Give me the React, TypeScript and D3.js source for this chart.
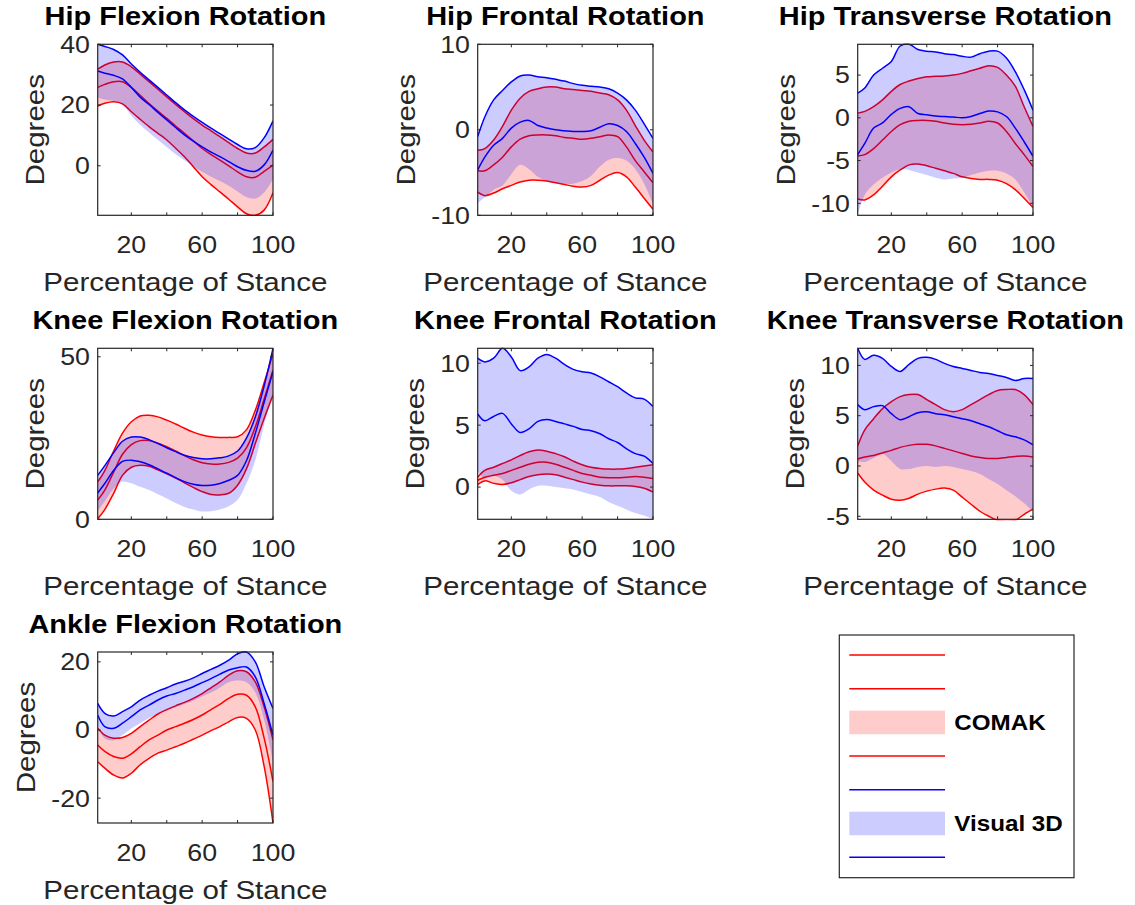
import React from 'react';
import * as d3 from 'd3';

// percentage of stance where values were read
const pct = [1, 5, 10, 15, 20, 25, 30, 35, 40, 45, 50, 55, 60, 65, 70, 75, 80, 85, 90, 95, 100];
const xTicks = [20, 40, 60, 80, 100];
const xTickLabels = [20, 60, 100];

// Hip flexion
const hipFlexLim = [-16.3, 40];
const hipFlexTicks = [0, 20, 40];
const hipFlexRedUpper = [31.8, 33.2, 34.2, 34.2, 32.6, 30.2, 27.7, 25.2, 22.7, 20.2, 17.8, 15.5, 13.4, 11.5, 9.6, 7.6, 5.7, 4.2, 4.2, 6.2, 8.7];
const hipFlexRedMean = [25.8, 26.8, 27.7, 27.7, 25.8, 23.2, 20.5, 18.0, 15.6, 13.1, 10.7, 8.2, 5.7, 3.7, 1.9, 0.0, -2.0, -3.6, -3.8, -1.8, 0.2];
const hipFlexRedLower = [19.7, 20.6, 21.1, 20.4, 17.8, 15.3, 12.9, 10.7, 8.5, 5.8, 3.0, -0.3, -3.6, -6.2, -8.6, -11.0, -13.5, -15.8, -16.3, -14.6, -8.9];
const hipFlexBlueUpper = [40.0, 39.3, 38.3, 36.5, 33.5, 30.8, 28.3, 25.8, 23.3, 20.8, 18.4, 16.3, 14.3, 12.4, 10.6, 8.8, 7.0, 5.6, 6.0, 9.2, 14.8];
const hipFlexBlueMean = [31.2, 30.5, 29.8, 28.6, 25.8, 22.6, 20.2, 17.6, 15.1, 12.6, 10.2, 8.1, 6.2, 4.5, 3.0, 1.4, -0.3, -1.5, -1.8, 0.3, 5.2];
const hipFlexBlueLower = [22.5, 21.8, 21.3, 20.2, 16.5, 13.5, 11.0, 8.6, 6.2, 3.8, 1.8, -0.2, -2.0, -3.6, -5.0, -6.6, -8.5, -10.3, -10.8, -8.8, -4.4];

// Hip frontal
const hipFrontLim = [-10, 10];
const hipFrontTicks = [-10, 0, 10];
const hipFrontRedUpper = [-2.4, -2.2, -1.2, 0.4, 2.3, 3.7, 4.5, 4.8, 5.0, 5.0, 4.8, 4.7, 4.6, 4.5, 4.3, 4.1, 3.5, 2.3, 0.5, -1.2, -2.6];
const hipFrontRedMean = [-4.8, -4.8, -4.1, -3.2, -2.0, -1.1, -0.7, -0.6, -0.6, -0.7, -0.9, -1.0, -1.1, -1.0, -0.8, -0.6, -0.8, -2.0, -3.6, -4.9, -6.2];
const hipFrontRedLower = [-7.3, -7.7, -7.4, -6.9, -6.5, -6.1, -5.9, -5.9, -6.0, -6.2, -6.4, -6.6, -6.7, -6.5, -5.9, -5.3, -5.0, -5.5, -6.7, -8.0, -9.3];
const hipFrontBlueUpper = [-0.8, 1.5, 3.5, 4.6, 5.6, 6.3, 6.4, 6.2, 6.1, 5.9, 5.7, 5.4, 5.2, 5.1, 5.0, 4.8, 4.3, 3.5, 2.3, 0.7, -1.0];
const hipFrontBlueMean = [-4.7, -3.2, -1.8, -1.0, 0.2, 0.9, 1.1, 0.5, 0.2, 0.0, -0.1, -0.2, -0.2, -0.1, 0.3, 0.7, 0.5, -0.2, -1.6, -3.2, -5.1];
const hipFrontBlueLower = [-8.6, -7.9, -7.0, -6.5, -5.2, -4.1, -4.6, -5.5, -6.0, -6.2, -6.3, -6.3, -6.0, -5.4, -4.3, -3.5, -3.3, -3.6, -4.6, -6.3, -8.7];

// Hip transverse
const hipTransLim = [-11.4, 8.6];
const hipTransTicks = [-10, -5, 0, 5];
const hipTransRedUpper = [0.55, 0.75, 1.3, 2.1, 3.1, 3.9, 4.3, 4.6, 4.8, 4.85, 4.9, 5.0, 5.2, 5.5, 5.8, 6.1, 5.9, 5.0, 3.7, 1.3, -1.0];
const hipTransRedMean = [-4.45, -4.3, -3.6, -2.6, -1.6, -0.8, -0.4, -0.3, -0.3, -0.4, -0.6, -0.75, -0.8, -0.75, -0.6, -0.4, -0.6, -1.6, -3.0, -4.3, -5.7];
const hipTransRedLower = [-9.5, -9.6, -9.0, -8.0, -6.9, -6.1, -5.5, -5.4, -5.6, -5.9, -6.2, -6.5, -6.9, -7.1, -7.2, -7.2, -7.3, -7.7, -8.4, -9.4, -10.5];
const hipTransBlueUpper = [2.9, 3.5, 5.0, 5.8, 6.6, 8.4, 8.6, 8.0, 7.8, 7.7, 7.5, 7.4, 7.2, 7.1, 7.5, 7.8, 7.8, 7.0, 5.4, 3.3, 0.9];
const hipTransBlueMean = [-4.3, -3.0, -1.2, -0.6, 0.4, 1.1, 1.3, 0.5, 0.35, 0.2, 0.15, 0.1, 0.0, 0.15, 0.5, 0.8, 0.7, 0.15, -1.2, -2.8, -4.5];
const hipTransBlueLower = [-11.4, -9.0, -7.8, -7.0, -6.4, -6.0, -6.1, -6.4, -6.7, -7.0, -7.2, -7.1, -7.0, -6.7, -6.4, -6.2, -6.2, -6.5, -7.2, -8.7, -10.4];

// Knee flexion
const kneeFlexLim = [0, 52.6];
const kneeFlexTicks = [0, 50];
const kneeFlexRedUpper = [11.5, 15.0, 21.0, 26.5, 30.0, 31.8, 32.0, 31.5, 30.5, 29.3, 28.0, 26.8, 25.9, 25.4, 25.2, 25.2, 25.4, 27.5, 33.5, 42.0, 51.0];
const kneeFlexRedMean = [5.9, 9.0, 14.5, 20.0, 23.0, 24.2, 24.2, 23.4, 22.3, 21.0, 19.6, 18.3, 17.4, 17.0, 17.0, 17.5, 18.8, 22.0, 28.4, 37.0, 45.9];
const kneeFlexRedLower = [0.2, 3.0, 8.0, 13.5, 16.0, 16.6, 16.3, 15.2, 14.0, 12.7, 11.2, 9.8, 8.5, 7.6, 7.5, 8.0, 10.5, 15.5, 23.3, 31.0, 38.2];
const kneeFlexBlueUpper = [13.5, 16.5, 20.5, 24.0, 25.3, 25.3, 24.5, 23.3, 22.0, 20.8, 19.7, 19.0, 18.6, 18.6, 18.9, 19.5, 21.0, 25.0, 31.5, 41.0, 52.6];
const kneeFlexBlueMean = [8.1, 11.0, 15.0, 17.8, 18.2, 17.7, 16.8, 15.5, 14.2, 12.8, 11.6, 10.8, 10.4, 10.5, 11.0, 12.0, 13.5, 18.0, 26.4, 36.0, 45.4];
const kneeFlexBlueLower = [2.7, 5.5, 9.5, 11.6, 11.1, 10.0, 9.0, 7.7, 6.4, 5.0, 3.8, 3.0, 2.4, 2.5, 3.0, 4.0, 6.0, 11.0, 18.2, 29.0, 38.2];

// Knee frontal
const kneeFrontLim = [-2.6, 11.2];
const kneeFrontTicks = [0, 5, 10];
const kneeFrontRedUpper = [0.8, 1.35, 1.6, 1.9, 2.2, 2.55, 2.85, 3.0, 2.9, 2.7, 2.45, 2.1, 1.8, 1.6, 1.5, 1.45, 1.45, 1.5, 1.6, 1.7, 1.8];
const kneeFrontRedMean = [0.55, 0.8, 0.95, 1.1, 1.35, 1.6, 1.85, 2.0, 2.0, 1.85, 1.6, 1.35, 1.1, 0.95, 0.8, 0.75, 0.75, 0.8, 0.85, 0.8, 0.7];
const kneeFrontRedLower = [0.2, 0.5, 0.3, 0.2, 0.35, 0.6, 0.85, 1.0, 1.05, 1.0, 0.8, 0.6, 0.4, 0.25, 0.15, 0.1, 0.1, 0.1, 0.05, -0.1, -0.4];
const kneeFrontBlueUpper = [10.4, 10.1, 10.4, 11.2, 10.5, 9.4, 9.7, 10.4, 10.7, 10.4, 9.9, 9.5, 9.3, 9.2, 8.9, 8.5, 8.1, 7.6, 7.2, 7.1, 6.5];
const kneeFrontBlueMean = [5.9, 5.35, 5.7, 5.95, 5.1, 4.4, 4.7, 5.3, 5.45, 5.3, 5.1, 4.9, 4.65, 4.55, 4.3, 3.9, 3.6, 3.1, 2.7, 2.5, 1.9];
const kneeFrontBlueLower = [1.3, 0.7, 0.9, 0.6, -0.3, -0.6, -0.2, 0.1, 0.1, 0.0, -0.1, -0.2, -0.4, -0.6, -0.8, -1.2, -1.5, -1.8, -2.1, -2.3, -2.6];

// Knee transverse
const kneeTransLim = [-5.3, 11.7];
const kneeTransTicks = [-5, 0, 5, 10];
const kneeTransRedUpper = [2.0, 3.6, 4.7, 5.7, 6.4, 6.9, 7.1, 7.1, 6.6, 6.1, 5.6, 5.4, 5.6, 6.1, 6.6, 7.1, 7.5, 7.6, 7.6, 7.1, 6.1];
const kneeTransRedMean = [0.7, 0.9, 1.05, 1.3, 1.55, 1.85, 2.05, 2.15, 2.15, 2.0, 1.75, 1.5, 1.25, 1.0, 0.85, 0.75, 0.75, 0.85, 0.95, 1.0, 0.9];
const kneeTransRedLower = [-0.7, -1.6, -2.4, -2.9, -3.3, -3.4, -3.2, -2.8, -2.5, -2.3, -2.2, -2.4, -3.1, -3.8, -4.5, -5.0, -5.4, -5.5, -5.4, -4.8, -4.3];
const kneeTransBlueUpper = [11.7, 10.6, 11.0, 10.7, 9.9, 9.4, 10.1, 10.7, 10.8, 10.6, 10.2, 9.9, 9.7, 9.5, 9.3, 9.2, 9.0, 8.8, 8.5, 8.7, 8.7];
const kneeTransBlueMean = [6.1, 5.6, 5.9, 6.0, 5.2, 4.6, 4.9, 5.3, 5.4, 5.2, 5.1, 4.9, 4.7, 4.5, 4.2, 3.9, 3.5, 3.1, 2.9, 2.6, 2.1];
const kneeTransBlueLower = [0.5, 0.4, 0.8, 1.2, 0.5, -0.3, -0.3, -0.1, 0.0, -0.1, 0.0, -0.1, -0.3, -0.5, -0.8, -1.3, -1.8, -2.4, -3.0, -3.7, -4.5];

// Ankle flexion
const ankleFlexLim = [-27.3, 22.9];
const ankleFlexTicks = [-20, 0, 20];
const ankleFlexRedUpper = [0.5, -1.5, -2.4, -2.2, -1.0, 1.0, 2.9, 4.7, 6.0, 7.1, 8.1, 9.3, 10.7, 12.4, 14.1, 16.1, 17.4, 17.1, 14.1, 6.8, -2.9];
const ankleFlexRedMean = [-4.4, -6.3, -7.8, -8.3, -7.0, -4.9, -2.9, -1.5, 0.0, 1.0, 2.0, 3.1, 4.4, 6.0, 7.5, 9.3, 10.5, 10.2, 6.8, -2.4, -15.1];
const ankleFlexRedLower = [-9.3, -11.2, -13.2, -14.1, -12.7, -10.2, -8.3, -6.8, -5.9, -4.9, -3.9, -2.7, -1.5, -0.2, 1.0, 2.4, 3.7, 3.4, 0.0, -10.7, -27.3];
const ankleFlexBlueUpper = [7.8, 4.9, 4.1, 5.4, 6.8, 8.8, 10.2, 11.4, 12.4, 13.5, 14.3, 15.3, 16.6, 17.8, 19.0, 20.5, 22.4, 22.9, 20.0, 12.7, 6.3];
const ankleFlexBlueMean = [4.4, 1.0, 0.5, 2.0, 3.9, 5.9, 7.3, 8.8, 10.0, 10.7, 11.7, 12.7, 13.9, 15.1, 16.4, 17.6, 18.3, 18.5, 15.6, 7.8, -1.5];
const ankleFlexBlueLower = [1.0, -2.5, -3.0, -1.5, 0.5, 2.0, 3.5, 4.8, 5.8, 6.7, 7.6, 8.6, 9.8, 11.0, 12.4, 14.0, 14.5, 14.0, 11.0, 3.0, -9.5];

const legendEntries = [
  { kind: 'line', series: 'red', label: '' },
  { kind: 'line', series: 'red', label: '' },
  { kind: 'patch', series: 'red', label: 'COMAK' },
  { kind: 'line', series: 'red', label: '' },
  { kind: 'line', series: 'blue', label: '' },
  { kind: 'patch', series: 'blue', label: 'Visual 3D' },
  { kind: 'line', series: 'blue', label: '' },
];

const panels = [
  { title: 'Hip Flexion Rotation', lim: hipFlexLim, ticks: hipFlexTicks,
    red: [hipFlexRedUpper, hipFlexRedMean, hipFlexRedLower], blue: [hipFlexBlueUpper, hipFlexBlueMean, hipFlexBlueLower] },
  { title: 'Hip Frontal Rotation', lim: hipFrontLim, ticks: hipFrontTicks,
    red: [hipFrontRedUpper, hipFrontRedMean, hipFrontRedLower], blue: [hipFrontBlueUpper, hipFrontBlueMean, hipFrontBlueLower] },
  { title: 'Hip Transverse Rotation', lim: hipTransLim, ticks: hipTransTicks,
    red: [hipTransRedUpper, hipTransRedMean, hipTransRedLower], blue: [hipTransBlueUpper, hipTransBlueMean, hipTransBlueLower] },
  { title: 'Knee Flexion Rotation', lim: kneeFlexLim, ticks: kneeFlexTicks,
    red: [kneeFlexRedUpper, kneeFlexRedMean, kneeFlexRedLower], blue: [kneeFlexBlueUpper, kneeFlexBlueMean, kneeFlexBlueLower] },
  { title: 'Knee Frontal Rotation', lim: kneeFrontLim, ticks: kneeFrontTicks,
    red: [kneeFrontRedUpper, kneeFrontRedMean, kneeFrontRedLower], blue: [kneeFrontBlueUpper, kneeFrontBlueMean, kneeFrontBlueLower] },
  { title: 'Knee Transverse Rotation', lim: kneeTransLim, ticks: kneeTransTicks,
    red: [kneeTransRedUpper, kneeTransRedMean, kneeTransRedLower], blue: [kneeTransBlueUpper, kneeTransBlueMean, kneeTransBlueLower] },
  { title: 'Ankle Flexion Rotation', lim: ankleFlexLim, ticks: ankleFlexTicks,
    red: [ankleFlexRedUpper, ankleFlexRedMean, ankleFlexRedLower], blue: [ankleFlexBlueUpper, ankleFlexBlueMean, ankleFlexBlueLower] },
];

const W = 1135;
const H = 905;
const colLeft = [97.7, 477.7, 857.7];
const rowTop = [44.3, 348.3, 652];
const boxW = 175.3;
const boxH = 171;
const FONT = '"Liberation Sans", Arial, Helvetica, sans-serif';
const SX = 1.115; // text in the figure is a bit wider than Arial
const AX = '#262626';
const RED = '#ff0000';
const BLUE = '#0000ff';
const TICK_FS = 24;
const LABEL_FS = 26.5;

// rough width of a tick label, to place the y label like MATLAB does
const labelWidth = (s: string, fs: number) =>
  s.split('').reduce((w, c) => w + (c === '-' ? 0.333 : 0.556), 0) * fs * SX;

const curve = d3.curveCatmullRom.alpha(0.5);

function Panel({ p, idx }: { p: any; idx: number }) {
  const left = colLeft[idx % 3];
  const top = rowTop[Math.floor(idx / 3)];
  const x = d3.scaleLinear().domain([1, 100]).range([left, left + boxW]);
  const y = d3.scaleLinear().domain(p.lim).range([top + boxH, top]);

  const line = d3.line<number>().x((_, i) => x(pct[i])).y((v) => y(v)).curve(curve);
  const band = (hi: number[], lo: number[]) =>
    d3.area<number>().x((i) => x(pct[i])).y0((i) => y(lo[i])).y1((i) => y(hi[i])).curve(curve)(pct.map((_, i) => i));

  const clipId = `clip-${idx}`;
  const tl = 3;
  const maxW = d3.max(p.ticks.map((t: number) => labelWidth(String(t), TICK_FS))) as number;
  const yLabelX = left - 7.7 - maxW - 16;
  const cy = top + boxH / 2;
  const cx = left + boxW / 2;

  return (
    <g>
      <defs>
        <clipPath id={clipId}>
          <rect x={left} y={top - 1} width={boxW} height={boxH + 2} />
        </clipPath>
      </defs>
      <g clipPath={`url(#${clipId})`}>
        <path d={band(p.red[0], p.red[2]) || ''} fill={RED} fillOpacity={0.2} />
        {p.red.map((s: number[], k: number) => (
          <path key={'r' + k} d={line(s) || ''} fill="none" stroke={RED} strokeWidth={1.5} />
        ))}
        <path d={band(p.blue[0], p.blue[2]) || ''} fill={BLUE} fillOpacity={0.2} />
        {[p.blue[0], p.blue[1]].map((s: number[], k: number) => (
          <path key={'b' + k} d={line(s) || ''} fill="none" stroke={BLUE} strokeWidth={1.5} />
        ))}
      </g>
      <rect x={left} y={top} width={boxW} height={boxH} fill="none" stroke={AX} strokeWidth={1.2} />
      {xTicks.map((t) => (
        <g key={'xt' + t} stroke={AX} strokeWidth={1}>
          <line x1={x(t)} x2={x(t)} y1={top + boxH} y2={top + boxH - tl} />
          <line x1={x(t)} x2={x(t)} y1={top} y2={top + tl} />
        </g>
      ))}
      {p.ticks.map((t: number) => (
        <g key={'yt' + t} stroke={AX} strokeWidth={1}>
          <line x1={left} x2={left + tl} y1={y(t)} y2={y(t)} />
          <line x1={left + boxW} x2={left + boxW - tl} y1={y(t)} y2={y(t)} />
        </g>
      ))}
      {xTickLabels.map((t) => (
        <text key={'xl' + t} transform={`translate(${x(t)},${top + boxH + 38}) scale(${SX},1)`}
          textAnchor="middle" fontSize={TICK_FS} fill={AX}>{t}</text>
      ))}
      {p.ticks.map((t: number) => (
        <text key={'yl' + t} transform={`translate(${left - 7.7},${y(t)}) scale(${SX},1)`}
          textAnchor="end" dy="0.35em" fontSize={TICK_FS} fill={AX}>{t}</text>
      ))}
      <text transform={`translate(${cx},${top + boxH + 75.7}) scale(${SX},1)`} textAnchor="middle"
        fontSize={LABEL_FS} fill={AX}>Percentage of Stance</text>
      <text transform={`translate(${yLabelX},${cy}) rotate(-90) scale(${SX},1)`} textAnchor="middle"
        fontSize={LABEL_FS} fill={AX}>Degrees</text>
      <text transform={`translate(${cx},${top - 19}) scale(${SX},1)`} textAnchor="middle"
        fontSize={26} fontWeight="bold" fill="#000">{p.title}</text>
    </g>
  );
}

function Legend() {
  const bx = 839.3;
  const by = 635;
  const bw = 234.7;
  const bh = 242.7;
  const step = 33.7;
  return (
    <g>
      <rect x={bx} y={by} width={bw} height={bh} fill="#fff" stroke={AX} strokeWidth={1.2} />
      {legendEntries.map((e, i) => {
        const cy = by + 20 + i * step;
        const col = e.series === 'red' ? RED : BLUE;
        return (
          <g key={i}>
            {e.kind === 'line' ? (
              <line x1={849.3} x2={945} y1={cy} y2={cy} stroke={col} strokeWidth={1.5} />
            ) : (
              <rect x={849.3} y={cy - 11.8} width={95.7} height={23.6} fill={col} fillOpacity={0.2} />
            )}
            {e.label && (
              <text transform={`translate(954.3,${cy}) scale(1.1,1)`} dy="0.36em" fontSize={22}
                fontWeight="bold" fill="#000">{e.label}</text>
            )}
          </g>
        );
      })}
    </g>
  );
}

export default function App() {
  return (
    <div style={{ position: 'absolute', left: 0, top: 0, width: W, height: H, background: '#fff' }}>
      <svg width={W} height={H} style={{ display: 'block', fontFamily: FONT }}>
        <rect width={W} height={H} fill="#fff" />
        {panels.map((p, i) => (
          <Panel key={i} p={p} idx={i} />
        ))}
        <Legend />
      </svg>
    </div>
  );
}
